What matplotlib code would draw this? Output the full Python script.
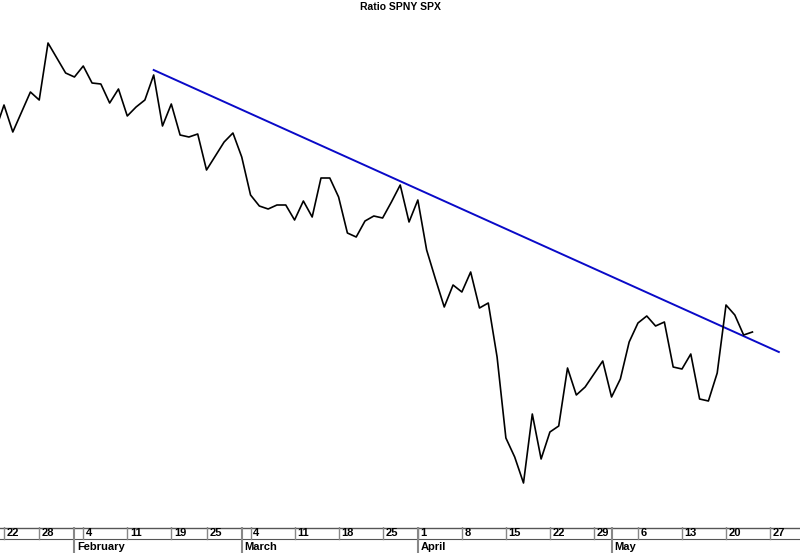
import numpy as np
import pandas as pd
import matplotlib
matplotlib.use("Agg")
import matplotlib.pyplot as plt

plt.rcParams["font.family"] = ["Liberation Sans", "DejaVu Sans"]

# trading days shown on the axis (2013); holidays removed, projection days after data kept
holidays = ["2013-01-21", "2013-02-18", "2013-03-29"]
dates = pd.bdate_range("2013-01-18", "2013-05-31", freq="C", holidays=holidays)

# ratio SPNY / SPX (no scale printed on the chart, values read as relative heights)
ratio = [
    0.396, 0.422, 0.395, 0.415, 0.435, 0.427, 0.484, 0.469, 0.454, 0.450,
    0.461, 0.444, 0.443, 0.424, 0.438, 0.411, 0.420, 0.427, 0.452, 0.401,
    0.423, 0.392, 0.390, 0.393, 0.357, 0.371, 0.385, 0.394, 0.370, 0.332,
    0.321, 0.318, 0.322, 0.322, 0.307, 0.326, 0.310, 0.349, 0.349, 0.330,
    0.294, 0.290, 0.306, 0.311, 0.309, 0.325, 0.342, 0.305, 0.327, 0.277,
    0.248, 0.220, 0.242, 0.235, 0.255, 0.219, 0.224, 0.170, 0.089, 0.070,
    0.044, 0.113, 0.068, 0.095, 0.101, 0.159, 0.132, 0.140, 0.153, 0.166,
    0.130, 0.148, 0.185, 0.204, 0.211, 0.201, 0.205, 0.160, 0.158, 0.173,
    0.128, 0.126, 0.154, 0.222, 0.212, 0.192, 0.195,
]

# hand-drawn trend line: (date, value) end points
trend_dates = ["2013-02-14", "2013-05-28"]
trend_values = [0.457, 0.175]

title = "Ratio SPNY SPX"

W, H = 800, 553
fig = plt.figure(figsize=(W / 100, H / 100), dpi=100)
fig.patch.set_facecolor("white")

axis_h = 26  # pixel height of the date strip
ax = fig.add_axes([0, axis_h / H, 1, 1 - axis_h / H])
ax_d = fig.add_axes([0, 0, 1, axis_h / H], sharex=ax)

pos = np.arange(len(dates))
date_index = {d: i for i, d in enumerate(dates)}

# x range: first week tick sits 4 px from left edge, 8.8 px per day
px_per_day = 8.805
x0 = 1 - 4 / px_per_day
ax.set_xlim(x0, x0 + W / px_per_day)
ax.set_ylim(0, (H - axis_h) / 1000)
ax.axis("off")

ax.plot(pos[:len(ratio)], ratio, color="black", linewidth=1.2, zorder=3)

tx = [date_index[pd.Timestamp(d)] for d in trend_dates]
ax.plot(tx, trend_values, color="#0a0ac8", linewidth=1.4, zorder=2)

fig.text(0.5, 1 - 7 / H, title, ha="center", va="center",
         fontsize=7.5, fontweight="bold")

# date strip
ax_d.set_ylim(0, axis_h)
ax_d.axis("off")
row_split = 14
strip_color = "#555555"
ax_d.axhline(axis_h - 0.5, color=strip_color, linewidth=1.0, clip_on=False)
ax_d.axhline(row_split, color=strip_color, linewidth=0.8)

week = dates.isocalendar().week.values
month = dates.month.values
for i in range(1, len(dates)):
    if week[i] != week[i - 1]:
        ax_d.plot([i, i], [row_split, axis_h], color="#888888", linewidth=1.0)
        ax_d.text(i + 0.3, (row_split + axis_h) / 2, str(dates[i].day),
                  ha="left", va="center", fontsize=8, fontweight="bold")
    if month[i] != month[i - 1]:
        ax_d.plot([i, i], [0, axis_h], color="#888888", linewidth=1.5)
        ax_d.text(i + 0.3, row_split / 2 - 0.5, dates[i].strftime("%B"),
                  ha="left", va="center", fontsize=8, fontweight="bold")

fig.savefig("out.png", dpi=100, facecolor="white")
